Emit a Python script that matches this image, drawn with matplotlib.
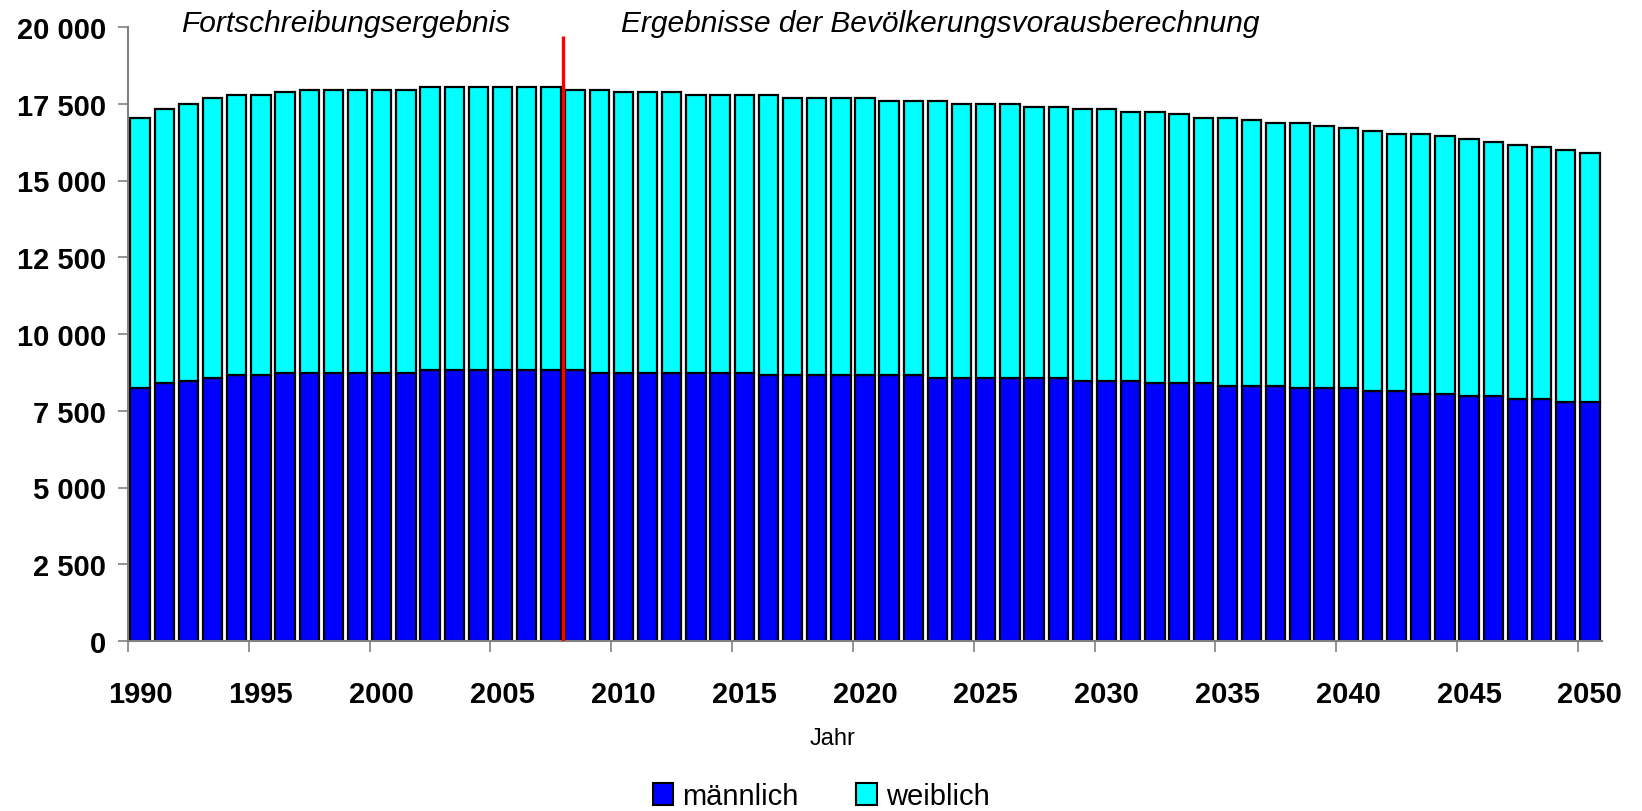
import matplotlib
matplotlib.use("Agg")
import matplotlib.pyplot as plt
from matplotlib.patches import Patch
from matplotlib.ticker import FuncFormatter

plt.rcParams['font.family'] = ['Liberation Sans', 'DejaVu Sans']

years = list(range(1990, 2051))

maennlich = [8230, 8390, 8480, 8570, 8650, 8650, 8740, 8740, 8740, 8740,
             8740, 8740, 8830, 8830, 8830, 8830, 8830, 8830, 8830, 8740,
             8740, 8740, 8740, 8740, 8740, 8740, 8650, 8650, 8650, 8650,
             8650, 8650, 8650, 8570, 8570, 8570, 8570, 8570, 8570, 8480,
             8480, 8480, 8390, 8390, 8390, 8300, 8300, 8300, 8230, 8230,
             8230, 8140, 8140, 8050, 8050, 7970, 7970, 7880, 7880, 7790,
             7790]

weiblich = [8820, 8940, 9020, 9120, 9120, 9120, 9130, 9220, 9220, 9220,
            9220, 9220, 9210, 9210, 9210, 9210, 9210, 9210, 9130, 9220,
            9130, 9130, 9130, 9030, 9030, 9030, 9120, 9040, 9040, 9040,
            9040, 8950, 8950, 9030, 8930, 8930, 8930, 8840, 8840, 8850,
            8850, 8760, 8850, 8760, 8660, 8750, 8670, 8580, 8650, 8560,
            8470, 8470, 8380, 8470, 8390, 8380, 8290, 8280, 8210, 8210,
            8120]

split_year = 2008
label_years = list(range(1990, 2051, 5))

fig = plt.figure(figsize=(16.42, 8.12), dpi=100)
ax = fig.add_axes([128 / 1642, 1 - 642 / 812, (1602 - 128) / 1642, (642 - 28) / 812])

x = list(range(len(years)))
ax.bar(x, maennlich, width=0.8, color='#0000FF', edgecolor='black', linewidth=1.6)
ax.bar(x, weiblich, width=0.8, bottom=maennlich, color='#00FFFF',
       edgecolor='black', linewidth=1.6)

# Trennlinie Fortschreibung / Vorausberechnung
sx = years.index(split_year) - 0.5
ax.vlines(sx, 0, 19700, color='#FF0000', linewidth=2.4, zorder=5)

ax.set_xlim(-0.5, len(years) - 0.5)
ax.set_ylim(0, 20000)

ax.set_yticks(range(0, 20001, 2500))
ax.yaxis.set_major_formatter(FuncFormatter(lambda v, p: f"{v:,.0f}".replace(',', ' ')))
ax.tick_params(axis='y', direction='out', length=7, width=1.2, color='#808080',
               labelsize=21, pad=9)
for t in ax.get_yticklabels():
    t.set_fontweight('bold')

ax.set_xticks([years.index(y) for y in label_years])
ax.set_xticklabels([str(y) for y in label_years], fontweight='bold')
ax.tick_params(axis='x', which='major', length=0, labelsize=21, pad=28)
ax.set_xticks([years.index(y) - 0.5 for y in label_years], minor=True)
ax.tick_params(axis='x', which='minor', direction='out', length=8, width=1.2, color='#808080')

for s in ['top', 'right']:
    ax.spines[s].set_visible(False)
for s in ['left', 'bottom']:
    ax.spines[s].set_color('#808080')
    ax.spines[s].set_linewidth(1.5)

fig.text(181 / 1642, 1 - 24 / 812, 'Fortschreibungsergebnis', fontsize=21.5,
         style='italic', va='center', ha='left')
fig.text(621 / 1642, 1 - 24 / 812, 'Ergebnisse der Bevölkerungsvorausberechnung',
         fontsize=21.5, style='italic', va='center', ha='left')

fig.text(833 / 1642, 1 - 739 / 812, 'Jahr', fontsize=17, ha='center', va='center')

handles = [Patch(facecolor='#0000FF', edgecolor='black', linewidth=1.5),
           Patch(facecolor='#00FFFF', edgecolor='black', linewidth=1.5)]
fig.legend(handles, ['männlich', 'weiblich'], loc='center', bbox_to_anchor=(0.5, 1 - 797 / 812),
           ncol=2, frameon=False, fontsize=21, handlelength=0.7, handleheight=0.8,
           handletextpad=0.3, columnspacing=2.0)

fig.savefig('out.png', dpi=100)
